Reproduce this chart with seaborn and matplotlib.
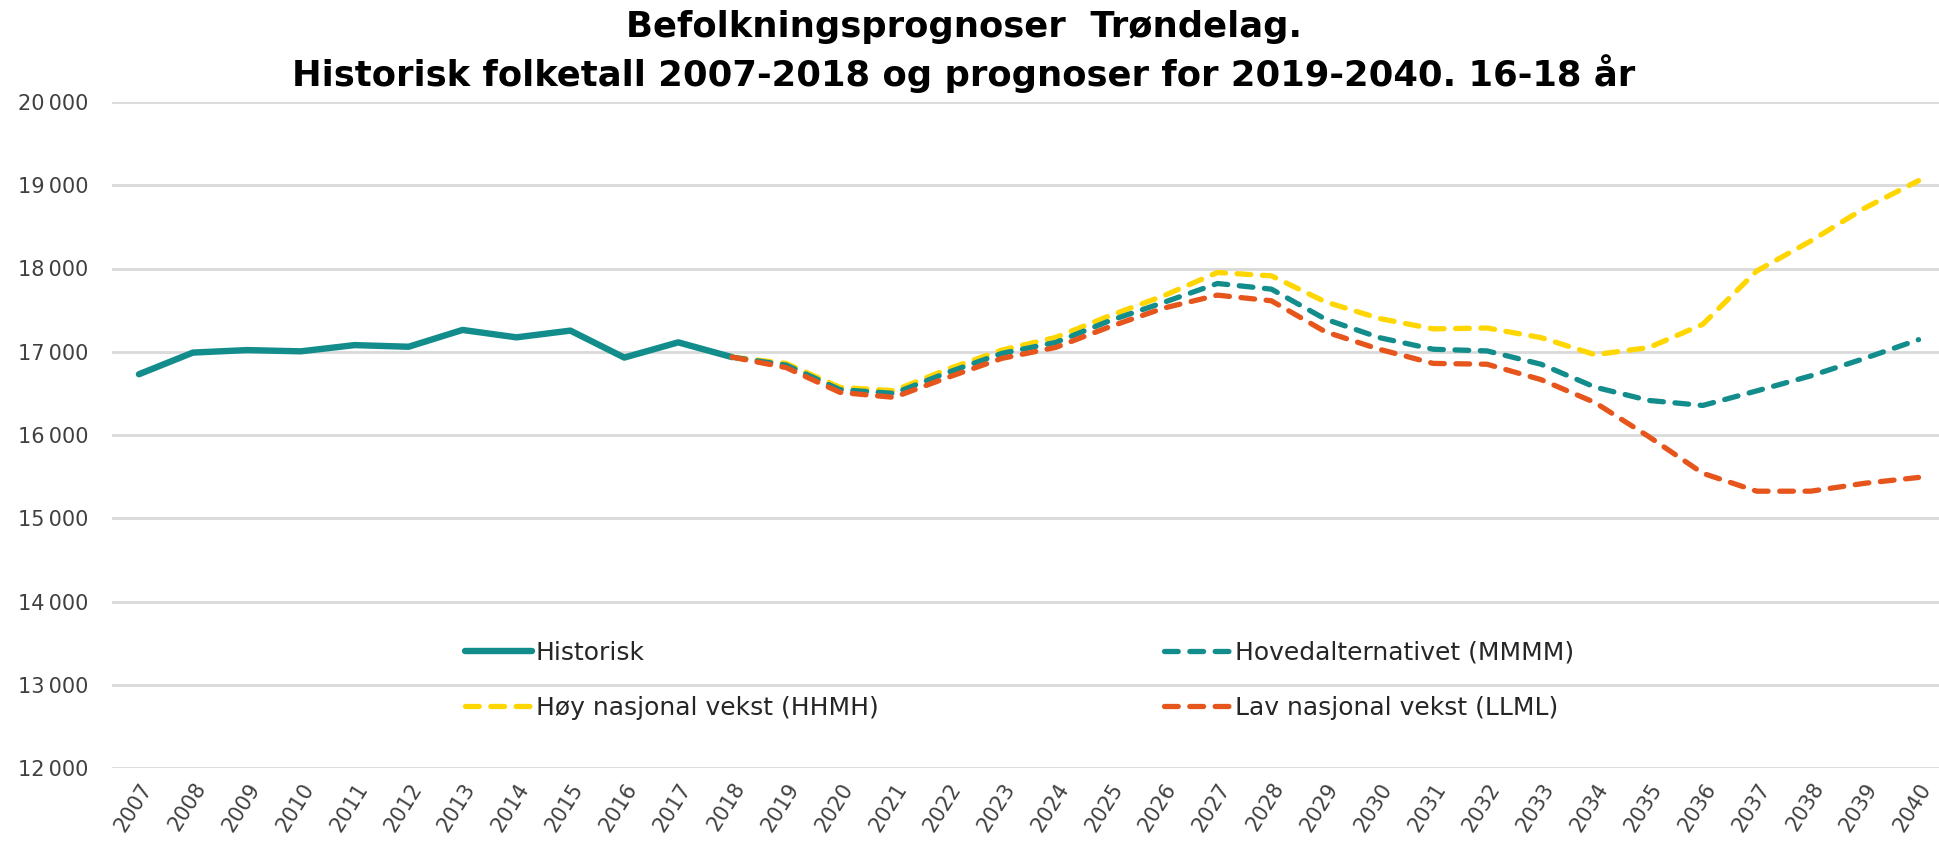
import matplotlib
matplotlib.use("Agg")
import matplotlib.pyplot as plt
import matplotlib.ticker as mticker
import seaborn as sns

# Historical population 16-18 years, Trøndelag
hist_years = list(range(2007, 2019))
historisk = [16730, 16990, 17020, 17005, 17080, 17060, 17262, 17173, 17254, 16930, 17113, 16935]

# Projections (start at last historical year)
prog_years = list(range(2018, 2041))
hoved = [16935, 16840, 16545, 16500, 16752, 16980, 17112, 17372, 17592, 17820, 17752, 17392,
         17170, 17030, 17010, 16850, 16575, 16415, 16355, 16530, 16710, 16920, 17145]
hoy = [16935, 16860, 16572, 16532, 16792, 17020, 17172, 17432, 17672, 17952, 17912, 17600,
       17400, 17275, 17285, 17170, 16965, 17050, 17330, 17970, 18330, 18725, 19055]
lav = [16935, 16810, 16512, 16452, 16692, 16920, 17052, 17300, 17524, 17680, 17612, 17240,
       17030, 16860, 16850, 16665, 16390, 15980, 15540, 15325, 15325, 15420, 15490]

all_years = list(range(2007, 2041))
y_ticks = list(range(12000, 20001, 1000))

TEAL = "#138C8C"
YELLOW = "#FFD600"
ORANGE = "#E6561C"

sns.set_theme(style="white")
plt.rcParams["font.family"] = ["DejaVu Sans"]

fig = plt.figure(figsize=(19.39, 8.44), dpi=100)
ax = fig.add_axes([112 / 1939, 1 - 768 / 844, 1 - 112 / 1939, (768 - 102) / 844])

dash = (0, (2.6, 2.2))
lw = 3.8
sns.lineplot(x=hist_years, y=historisk, color=TEAL, lw=4.6, ax=ax,
             label="Historisk", solid_capstyle="round")
sns.lineplot(x=prog_years, y=hoy, color=YELLOW, lw=lw, linestyle=dash, ax=ax,
             label="Høy nasjonal vekst (HHMH)", dash_capstyle="round")
sns.lineplot(x=prog_years, y=hoved, color=TEAL, lw=lw, linestyle=dash, ax=ax,
             label="Hovedalternativet (MMMM)", dash_capstyle="round")
sns.lineplot(x=prog_years, y=lav, color=ORANGE, lw=lw, linestyle=dash, ax=ax,
             label="Lav nasjonal vekst (LLML)", dash_capstyle="round")

# a little room on the right so the last rotated year label fits
ax.set_xlim(2006.5, 2040.38)
ax.set_ylim(12000, 20000)
ax.set_xticks(all_years)
ax.set_xticklabels([str(y) for y in all_years], rotation=58, ha="right",
                   rotation_mode="anchor", fontsize=15, color="#404040")
ax.set_yticks(y_ticks)
ax.yaxis.set_major_formatter(mticker.FuncFormatter(lambda v, p: f"{v:,.0f}".replace(",", "\u202f")))
ax.tick_params(axis="y", length=0, pad=17, labelsize=15, labelcolor="#404040")
ax.tick_params(axis="x", length=0, pad=8)
ax.grid(axis="y", color="#D9D9D9", lw=2)
for s in ax.spines.values():
    s.set_visible(False)
ax.set_xlabel("")
ax.set_ylabel("")

handles, labels = ax.get_legend_handles_labels()
ax.legend(handles, labels, ncol=2, loc="upper left", bbox_to_anchor=(452 / 1939, 1 - 628 / 844),
          bbox_transform=fig.transFigure, frameon=False, fontsize=18, borderpad=0,
          handlelength=2.7, handletextpad=0.15, columnspacing=11.4, labelspacing=1.25,
          labelcolor="#262626")

fig.text(0.497, 1 - 27 / 844, "Befolkningsprognoser  Trøndelag.",
         ha="center", va="center", fontsize=25.5, fontweight="bold", color="black")
fig.text(0.497, 1 - 74 / 844, "Historisk folketall 2007-2018 og prognoser for 2019-2040. 16-18 år",
         ha="center", va="center", fontsize=25.5, fontweight="bold", color="black")

fig.savefig("out.png", dpi=100)
